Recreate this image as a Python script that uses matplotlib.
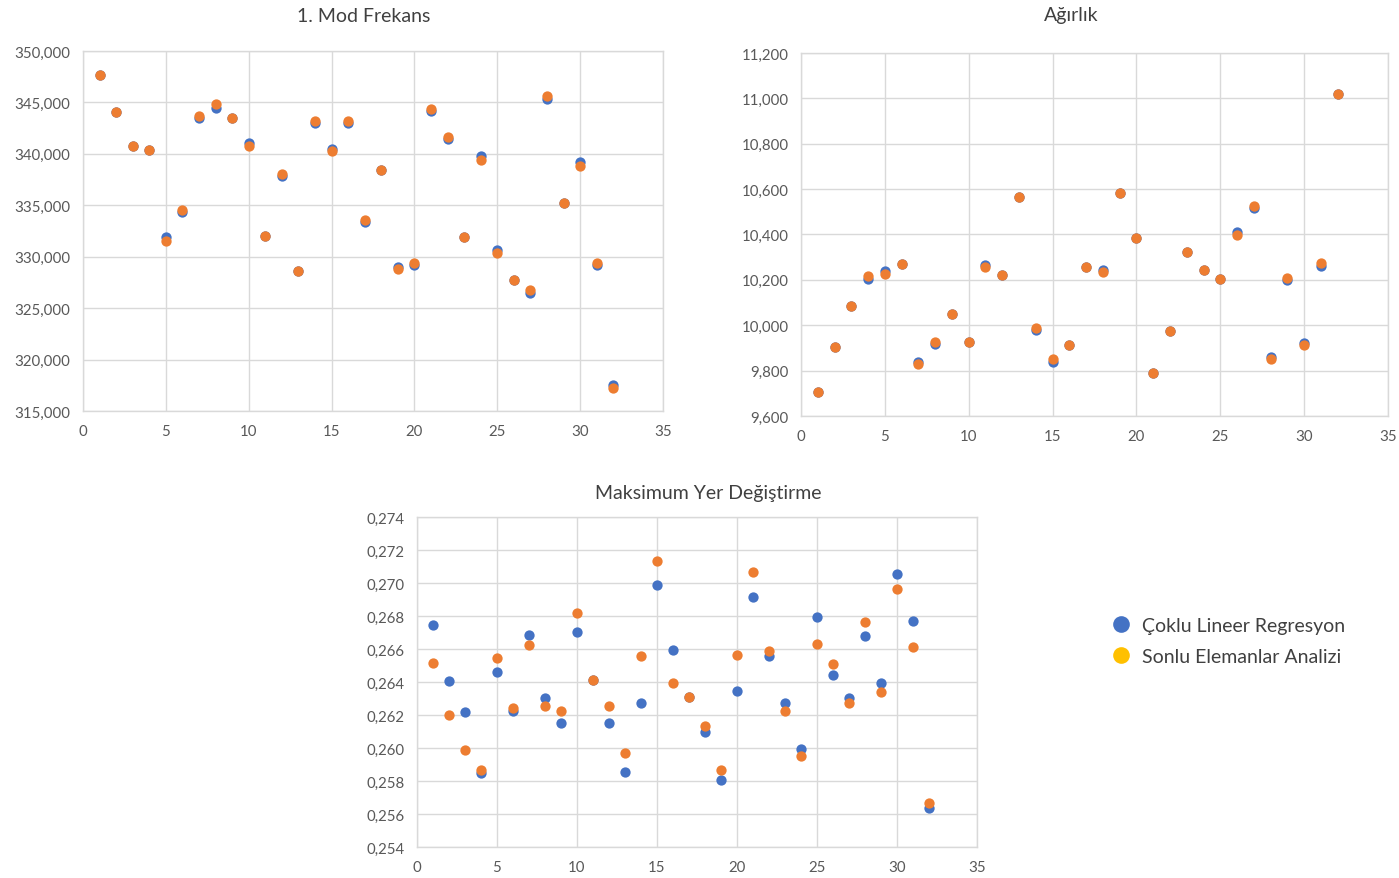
import matplotlib
matplotlib.use("Agg")
import matplotlib.pyplot as plt
from matplotlib.ticker import FuncFormatter, MultipleLocator
from matplotlib.lines import Line2D

# ---------------- data ----------------
idx = list(range(1, 33))

freq_reg = [347700, 344100, 340800, 340400, 331900, 334300, 343500, 344500,
            343500, 341100, 332000, 337800, 328600, 343000, 340500, 343000,
            333400, 338400, 329000, 329200, 344200, 341400, 331900, 339800,
            330700, 327700, 326500, 345300, 335200, 339200, 329200, 317500]
freq_fea = [347700, 344100, 340800, 340400, 331500, 334500, 343700, 344800,
            343500, 340800, 332000, 338000, 328600, 343200, 340300, 343200,
            333600, 338400, 328800, 329400, 344400, 341600, 331900, 339400,
            330400, 327700, 326800, 345600, 335200, 338800, 329400, 317200]

mass_reg = [9705, 9905, 10084, 10206, 10237, 10268, 9840, 9918,
            10049, 9925, 10265, 10221, 10564, 9978, 9840, 9912,
            10255, 10245, 10585, 10385, 9788, 9974, 10324, 10242,
            10206, 10410, 10516, 9859, 10201, 9921, 10261, 11018]
mass_fea = [9705, 9905, 10084, 10215, 10228, 10268, 9831, 9927,
            10049, 9925, 10255, 10221, 10564, 9987, 9850, 9912,
            10255, 10236, 10585, 10385, 9788, 9974, 10324, 10242,
            10206, 10399, 10524, 9850, 10209, 9912, 10276, 11018]

disp_reg = [0.26746, 0.26406, 0.26216, 0.25847, 0.26461, 0.26224, 0.26687, 0.26303,
            0.26149, 0.26706, 0.26414, 0.26149, 0.25855, 0.26272, 0.26989, 0.26592,
            0.26309, 0.26100, 0.25807, 0.26347, 0.26914, 0.26556, 0.26274, 0.25991,
            0.26793, 0.26442, 0.26301, 0.26679, 0.26396, 0.27056, 0.26772, 0.25639]
disp_fea = [0.26517, 0.26198, 0.25989, 0.25868, 0.26546, 0.26244, 0.26623, 0.26252,
            0.26226, 0.26821, 0.26414, 0.26252, 0.25971, 0.26556, 0.27131, 0.26394,
            0.26309, 0.26133, 0.25868, 0.26564, 0.27066, 0.26588, 0.26224, 0.25951,
            0.26631, 0.26507, 0.26272, 0.26762, 0.26337, 0.26963, 0.26613, 0.25669]

titles = ["1. Mod Frekans", "Ağırlık", "Maksimum Yer Değiştirme"]
legend_labels = ["Çoklu Lineer Regresyon", "Sonlu Elemanlar Analizi"]

BLUE = "#4472C4"
ORANGE = "#ED7D31"
GOLD = "#FFC000"
GRID = "#D9D9D9"
TXT = "#595959"

plt.rcParams['font.family'] = ['Lato', 'DejaVu Sans']

W, H = 1399, 879
fig = plt.figure(figsize=(W / 100, H / 100), dpi=100)


def add_ax(l, r, t, b):
    return fig.add_axes([l / W, 1 - b / H, (r - l) / W, (b - t) / H])


def style(ax, ylim, ystep, fmt):
    ax.set_xlim(0, 35)
    ax.set_ylim(*ylim)
    ax.xaxis.set_major_locator(MultipleLocator(5))
    ax.yaxis.set_major_locator(MultipleLocator(ystep))
    ax.yaxis.set_major_formatter(FuncFormatter(fmt))
    ax.grid(True, color=GRID, linewidth=1.0)
    ax.set_axisbelow(True)
    for s in ax.spines.values():
        s.set_color(GRID)
        s.set_linewidth(1.0)
    ax.tick_params(length=0, labelsize=10.8, labelcolor=TXT)
    ax.tick_params(axis='y', pad=9)
    ax.tick_params(axis='x', pad=9.5)


thousands = lambda v, p: f"{int(round(v)):,}"
decimal_comma = lambda v, p: f"{v:.3f}".replace('.', ',')

S = 55
ax1 = add_ax(83, 663, 52, 412)
ax1.scatter(idx, freq_reg, s=S, color=BLUE, linewidths=0, zorder=3)
ax1.scatter(idx, freq_fea, s=S, color=ORANGE, linewidths=0, zorder=4)
style(ax1, (315000, 350000), 5000, thousands)

ax2 = add_ax(801, 1388, 54, 417)
ax2.scatter(idx, mass_reg, s=S, color=BLUE, linewidths=0, zorder=3)
ax2.scatter(idx, mass_fea, s=S, color=ORANGE, linewidths=0, zorder=4)
style(ax2, (9600, 11200), 200, thousands)

ax3 = add_ax(417, 977, 518, 848)
ax3.scatter(idx, disp_reg, s=S, color=BLUE, linewidths=0, zorder=3)
ax3.scatter(idx, disp_fea, s=S, color=ORANGE, linewidths=0, zorder=4)
style(ax3, (0.254, 0.274), 0.002, decimal_comma)

for (x, y), t in zip([(364, 16), (1071, 16), (708, 493)], titles):
    fig.text(x / W, 1 - y / H, t, ha='center', va='center', fontsize=14, color="#404040")

handles = [Line2D([], [], marker='o', linestyle='', markersize=12, color=c, markeredgewidth=0)
           for c in (BLUE, GOLD)]
fig.legend(handles, legend_labels, loc='center left',
           bbox_to_anchor=(1111 / W, 1 - 642 / H), frameon=False,
           fontsize=14, labelcolor="#404040", handletextpad=0.57,
           handlelength=1.0, labelspacing=0.75, borderpad=0, borderaxespad=0)

fig.savefig("out.png", dpi=100, facecolor="white")
